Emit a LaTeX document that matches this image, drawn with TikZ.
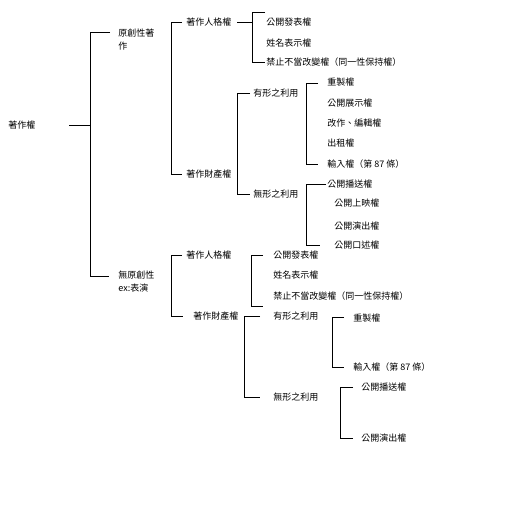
\documentclass[tikz,border=0pt]{standalone}
\usepackage{fontspec}
\newfontfamily\cjk{Noto Sans CJK TC}
\begin{document}
\begin{tikzpicture}[x=1pt,y=-1pt,line width=0.8pt,
  item/.style={anchor=west,inner sep=0pt,font=\cjk\fontsize{9}{13}\selectfont},
  twoline/.style={item,align=left}]
\useasboundingbox (0,0) rectangle (512,530);
% root
\node[item] (root) at (8,125) {著作權};
\node[twoline] (orig) at (118,40) {原創性著\\作};
\node[twoline] (nonorig) at (118,282) {無原創性\\ex:表演};
% original works
\node[item] (persA) at (186,22) {著作人格權};
\node[item] (propA) at (186,174) {著作財產權};
\node[item] (pubA) at (266,22) {公開發表權};
\node[item] (nameA) at (266,43) {姓名表示權};
\node[item] (integA) at (266,62) {禁止不當改變權（同一性保持權）};
\node[item] (tangA) at (253,93) {有形之利用};
\node[item] (intanA) at (253,194) {無形之利用};
\node[item] (reproA) at (327,82) {重製權};
\node[item] (exhibA) at (327,103) {公開展示權};
\node[item] (adaptA) at (327,123) {改作、編輯權};
\node[item] (rentA) at (327,143) {出租權};
\node[item] (importA) at (327,164) {輸入權（第 87 條）};
\node[item] (broadA) at (327,184) {公開播送權};
\node[item] (screenA) at (334,203) {公開上映權};
\node[item] (performA) at (334,226) {公開演出權};
\node[item] (recitA) at (334,245) {公開口述權};
% non-original works
\node[item] (persB) at (186,255) {著作人格權};
\node[item] (propB) at (193,316) {著作財產權};
\node[item] (pubB) at (273,255) {公開發表權};
\node[item] (nameB) at (273,275) {姓名表示權};
\node[item] (integB) at (273,296) {禁止不當改變權（同一性保持權）};
\node[item] (tangB) at (273,316) {有形之利用};
\node[item] (intanB) at (273,397) {無形之利用};
\node[item] (reproB) at (353,318) {重製權};
\node[item] (importB) at (353,367) {輸入權（第 87 條）};
\node[item] (broadB) at (361,387) {公開播送權};
\node[item] (performB) at (361,438) {公開演出權};
% bracket ends
\coordinate (rootR) at (69,125);
\coordinate (rootV) at (90,125);
\coordinate (t0) at (110,32);   \coordinate (b0) at (109,276);
\coordinate (t1) at (182,22);   \coordinate (b1) at (182,174);
\coordinate (persAR) at (237,22);
\coordinate (t2) at (265,12);   \coordinate (b2) at (265,62);
\coordinate (t3) at (250,93);   \coordinate (b3) at (250,194);
\coordinate (t4) at (318,83);   \coordinate (b4) at (318,164);
\coordinate (t5) at (326,184);  \coordinate (b5) at (320,245);
\coordinate (t6) at (182,255);  \coordinate (b6) at (183,316);
\coordinate (t7) at (263,255);  \coordinate (b7) at (263,306);
\coordinate (t8) at (260,316);  \coordinate (b8) at (260,397);
\coordinate (t9) at (344,317);  \coordinate (b9) at (344,367);
\coordinate (t10) at (353,387); \coordinate (b10) at (353,438);
% brackets
\draw (rootR) -- (rootV);
\draw (t0) -- ++(-20,0) |- (b0);
\draw (t1) -- ++(-11,0) |- (b1);
\draw (persAR) -- ++(15,0);
\draw (t2) -- ++(-13,0) |- (b2);
\draw (t3) -- ++(-13,0) |- (b3);
\draw (t4) -- ++(-12,0) |- (b4);
\draw (t5) -- ++(-20,0) |- (b5);
\draw (t6) -- ++(-11,0) |- (b6);
\draw (t7) -- ++(-12,0) |- (b7);
\draw (t8) -- ++(-16,0) |- (b8);
\draw (t9) -- ++(-12,0) |- (b9);
\draw (t10) -- ++(-13,0) |- (b10);
\end{tikzpicture}
\end{document}
